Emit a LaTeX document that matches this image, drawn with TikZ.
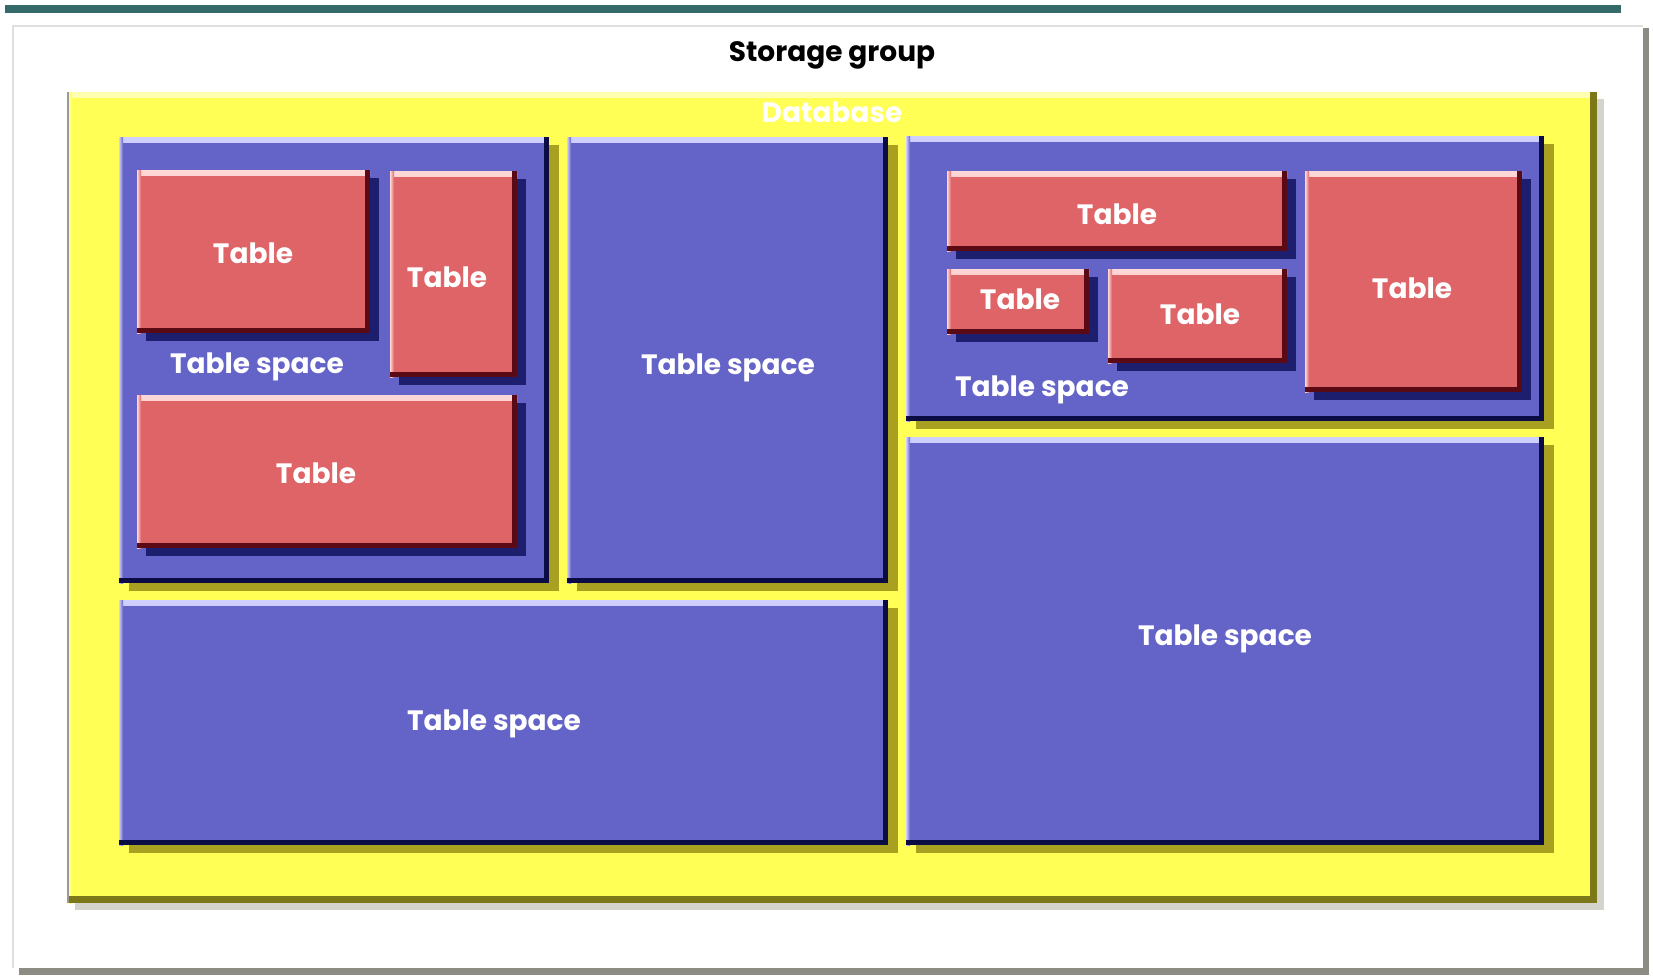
\documentclass[tikz,border=0pt]{standalone}
\usepackage{fontspec}
\setmainfont{Poppins}
\usetikzlibrary{fit}

\definecolor{barteal}{HTML}{346A6A}
\definecolor{framegray}{HTML}{8C8C84}
\definecolor{dbyellow}{HTML}{FFFF55}
\definecolor{dblight}{HTML}{FFFFB0}
\definecolor{dbdark}{HTML}{7C7818}
\definecolor{dbshade}{HTML}{D4D4CC}
\definecolor{tsblue}{HTML}{6464C8}
\definecolor{tslight}{HTML}{D0D0FF}
\definecolor{tsdark}{HTML}{0C0C44}
\definecolor{tsshade}{HTML}{A8A020}
\definecolor{tbred}{HTML}{DE6468}
\definecolor{tblight}{HTML}{FFD8D8}
\definecolor{tbdark}{HTML}{5A0A14}
\definecolor{tbshade}{HTML}{1E1E6E}

\tikzset{
  % filled box with a light top/left rim and a dark right/bottom rim
  bevelled/.style n args={4}{
    fill=#1, draw=none, inner sep=0pt, outer sep=0pt,
    path picture={
      \shade[top color=#2, bottom color=#1]
        (path picture bounding box.north west) rectangle
        ([yshift=-5pt]path picture bounding box.north east);
      \shade[left color=#2, right color=#1]
        (path picture bounding box.north west) rectangle
        ([xshift=4pt]path picture bounding box.south west);
      \fill[#3] ([xshift=-#4]path picture bounding box.north east) rectangle
        (path picture bounding box.south east);
      \fill[#3] ([yshift=#4]path picture bounding box.south west) rectangle
        (path picture bounding box.south east);
    }},
  database/.style={bevelled={dbyellow}{dblight}{dbdark}{7pt}},
  database shadow/.style={fill=dbshade},
  tspace/.style={bevelled={tsblue}{tslight}{tsdark}{5pt}},
  tspace shadow/.style={fill=tsshade},
  table/.style={bevelled={tbred}{tblight}{tbdark}{5pt}},
  table shadow/.style={fill=tbshade},
  lbl/.style={text=white, font=\bfseries\fontsize{28}{30}\selectfont, inner sep=0pt},
  title/.style={text=black, font=\bfseries\fontsize{28}{30}\selectfont, inner sep=0pt},
}

% #1 name, #2 kind, #3-#6 corners, #7 shadow offset
\newcommand\bevelpanel[7]{%
  \coordinate (#1-nw) at (#3,#4);
  \coordinate (#1-se) at (#5,#6);
  \fill[#2 shadow] ([shift={#7}]#1-nw) rectangle ([shift={#7}]#1-se);
  \node[#2, fit=(#1-nw)(#1-se)] (#1) {};
}

\begin{document}
\begin{tikzpicture}[x=1pt,y=-1pt]
  \useasboundingbox[fill=white] (0,0) rectangle (1653,975);

  % header bar
  \coordinate (bar-nw) at (5,5);
  \coordinate (bar-se) at (1621,13);
  \node[fill=barteal, inner sep=0pt, fit=(bar-nw)(bar-se)] (bar) {};

  % storage group frame
  \coordinate (frame-nw) at (13,26);
  \coordinate (frame-se) at (1643,968);
  \node[fill=white, inner sep=0pt, fit=(frame-nw)(frame-se)] (frame) {};
  \draw[gray!25, line width=1.5pt] (frame.south west) -- (frame.north west) -- (frame.north east);
  \fill[framegray] ([yshift=-2pt]frame.north east) rectangle ([shift={(6pt,-7pt)}]frame.south east);
  \fill[framegray] ([xshift=6pt]frame.south west) rectangle ([shift={(6pt,-7pt)}]frame.south east);
  \node[title] (sg) at (832,55) {Storage group};

  % database
  \bevelpanel{db}{database}{68}{92}{1597}{903}{(7pt,-7pt)}
  \draw[gray!80, line width=1.2pt] (db.north west) -- (db.south west);
  \node[lbl] (dbl) at (832,112) {Database};

  % table spaces
  \bevelpanel{ts1}{tspace}{119}{137}{549}{583}{(10pt,-8pt)}
  \bevelpanel{ts2}{tspace}{567}{137}{888}{583}{(10pt,-8pt)}
  \bevelpanel{ts3}{tspace}{906}{136}{1544}{421}{(10pt,-8pt)}
  \bevelpanel{ts4}{tspace}{119}{600}{888}{845}{(10pt,-8pt)}
  \bevelpanel{ts5}{tspace}{906}{437}{1544}{845}{(10pt,-8pt)}

  % tables
  \bevelpanel{t1}{table}{137}{170}{370}{333}{(9pt,-8pt)}
  \bevelpanel{t2}{table}{390}{171}{517}{377}{(9pt,-8pt)}
  \bevelpanel{t3}{table}{137}{395}{517}{548}{(9pt,-8pt)}
  \bevelpanel{t4}{table}{947}{171}{1287}{251}{(9pt,-8pt)}
  \bevelpanel{t5}{table}{947}{269}{1089}{334}{(9pt,-8pt)}
  \bevelpanel{t6}{table}{1108}{269}{1287}{363}{(9pt,-8pt)}
  \bevelpanel{t7}{table}{1305}{171}{1522}{392}{(9pt,-8pt)}

  % labels
  \node[lbl] (t1l) at (253,253) {Table};
  \node[lbl] (t2l) at (447,277) {Table};
  \node[lbl] (t3l) at (316,473) {Table};
  \node[lbl] (t4l) at (1117,214) {Table};
  \node[lbl] (t5l) at (1020,299) {Table};
  \node[lbl] (t6l) at (1200,314) {Table};
  \node[lbl] (t7l) at (1412,288) {Table};
  \node[lbl] (ts1l) at (257,367) {Table space};
  \node[lbl] (ts2l) at (728,368) {Table space};
  \node[lbl] (ts3l) at (1042,390) {Table space};
  \node[lbl] (ts4l) at (494,724) {Table space};
  \node[lbl] (ts5l) at (1225,639) {Table space};
\end{tikzpicture}
\end{document}
